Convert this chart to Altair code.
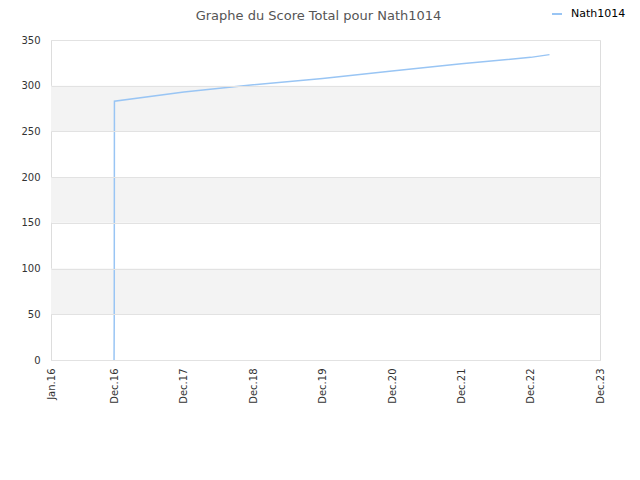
import altair as alt
import pandas as pd

# data
dates = ["2016-11-28", "2016-11-29", "2016-11-30", "2017-12-01", "2018-12-01",
         "2019-12-01", "2020-12-01", "2021-12-01", "2022-12-01", "2023-03-10"]
scores = [0, 44, 283, 293, 301, 308, 316, 324, 331, 334]
player = ["Nath1014"] * len(dates)

band_lo = [50, 150, 250]
band_hi = [100, 200, 300]

tick_dates = ["2016-01-01", "2016-12-01", "2017-12-01", "2018-12-01", "2019-12-01",
              "2020-12-01", "2021-12-01", "2022-12-01", "2023-12-01"]

df = pd.DataFrame({"date": dates, "score": scores, "player": player})
bands = pd.DataFrame({"lo": band_lo, "hi": band_hi})

def dt(s):
    y, m, d = map(int, s.split("-"))
    return alt.DateTime(year=y, month=m, date=d, utc=True)

xscale = alt.Scale(type="utc", domain=[dt(tick_dates[0]), dt(tick_dates[-1])])
yscale = alt.Scale(domain=[0, 350])

band_layer = alt.Chart(bands).mark_rect(color="#f3f3f3").encode(
    x=alt.value(0), x2=alt.value(549),
    y=alt.Y("lo:Q", scale=yscale), y2="hi:Q",
)

line = alt.Chart(df).mark_line(strokeWidth=1.5, color="#99c5f4").encode(
    x=alt.X("date:T", scale=xscale,
            axis=alt.Axis(title=None, values=[dt(t) for t in tick_dates],
                          labelExpr="utcFormat(datum.value, '%b.%y')", labelAngle=-90,
                          labelAlign="right", labelBaseline="middle",
                          labelFont="DejaVu Sans", labelFontSize=10, labelColor="#333333",
                          labelPadding=8, ticks=False, grid=False,
                          domainColor="#dddddd", labelOverlap=False)),
    y=alt.Y("score:Q", scale=yscale,
            axis=alt.Axis(title=None, values=[0, 50, 100, 150, 200, 250, 300, 350],
                          labelFont="DejaVu Sans", labelFontSize=10, labelColor="#333333",
                          labelPadding=11, ticks=False, grid=True, gridColor="#e2e2e2",
                          domain=False, zindex=1)),
    color=alt.Color("player:N", scale=alt.Scale(range=["#99c5f4"]),
                    legend=alt.Legend(title=None, orient="none", legendX=500, legendY=-32,
                                      symbolType="stroke", symbolStrokeWidth=2, symbolSize=100,
                                      labelFont="DejaVu Sans", labelFontSize=11,
                                      labelOffset=8, labelColor="#000000")),
)

chart = alt.layer(band_layer, line).properties(
    width=549, height=320,
    autosize=alt.AutoSizeParams(type="none"),
    padding={"left": 43, "top": 32, "right": 32, "bottom": 100},
    title=alt.TitleParams("Graphe du Score Total pour Nath1014", font="DejaVu Sans",
                          fontSize=13, fontWeight="normal", color="#555555",
                          anchor="middle", dx=-7, dy=27, offset=12),
).configure_view(stroke="#dddddd")

chart.save("out.html", embed_options={"renderer": "svg", "actions": False})
